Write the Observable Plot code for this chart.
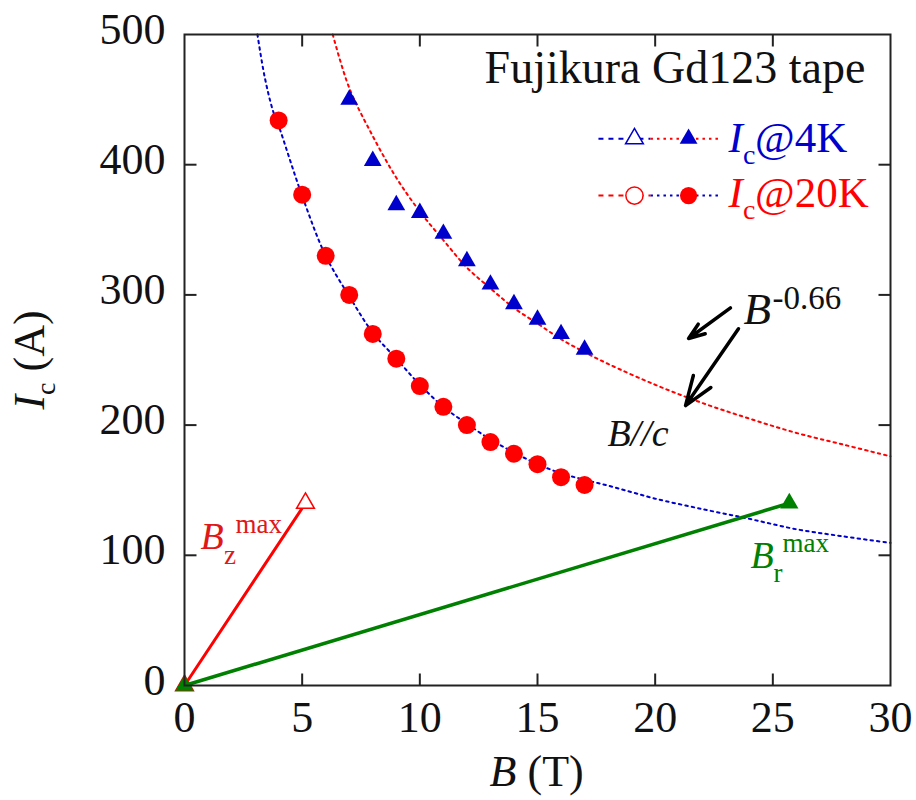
<!DOCTYPE html>
<html><head><meta charset="utf-8">
<script src="https://cdn.jsdelivr.net/npm/d3@7"></script>
<script src="https://cdn.jsdelivr.net/npm/@observablehq/plot@0.6"></script>
<style>html,body{margin:0;padding:0;background:#fff}</style>
</head><body><div id="chart"></div>
<script>
// ---------- data ----------
const xTicks = [0, 5, 10, 15, 20, 25, 30];
const yTicks = [0, 100, 200, 300, 400, 500];

// Ic at 4 K (filled blue triangles)
const B_4K  = [7, 8, 9, 10, 11, 12, 13, 14, 15, 16, 17];
const Ic_4K = [450, 403, 369, 363, 347, 326, 308, 293, 281, 270, 258];

// Ic at 20 K (filled red circles)
const B_20K  = [4, 5, 6, 7, 8, 9, 10, 11, 12, 13, 14, 15, 16, 17];
const Ic_20K = [434, 377, 330, 300, 270, 251, 230, 214, 200, 187, 178, 170, 160, 154];

// B^-0.66 fit curves
const fitB_4K  = [6.3, 7, 8, 9, 10, 11, 12, 13, 14, 15, 16, 17, 18, 20, 22, 24, 26, 28, 30];
const fitIc_4K = [500, 459, 422, 390, 364, 342, 321, 305, 290, 278, 266, 256, 247, 231, 217, 205, 194, 185, 176];
const fitB_20K  = [3.1, 3.4, 3.75, 4, 5, 6, 7, 8, 9, 10, 11, 12, 13, 14, 15, 16, 17, 18, 19, 20, 22, 24, 26, 28, 30];
const fitIc_20K = [500, 468, 442, 430, 376, 330, 299, 271, 251, 231, 214, 201, 189, 179, 170, 163, 158, 153.5, 148.5, 143.5, 135.5, 128, 120, 114.5, 109.5];

// load lines B_z^max and B_r^max
const Bz_B  = [0, 5.14];
const Bz_Ic = [0, 140];
const Br_B  = [0, 25.7];
const Br_Ic = [0, 140];

const titleText = "Fujikura Gd123 tape";
const legendLabels = ["@4K", "@20K"];

// ---------- styling ----------
const SERIF = "'Liberation Serif', 'Times New Roman', serif";
const BLUE = "#0000cc", RED = "#ff0000", GREEN = "#008000", INK = "#111111";

const zip = (xs, ys) => xs.map((x, i) => ({B: x, Ic: ys[i]}));
const pts4K = zip(B_4K, Ic_4K), pts20K = zip(B_20K, Ic_20K);
const fit4K = zip(fitB_4K, fitIc_4K), fit20K = zip(fitB_20K, fitIc_20K);
const Bz = zip(Bz_B, Bz_Ic), Br = zip(Br_B, Br_Ic);

const tickSym = (dx, dy) => ({draw(ctx) { ctx.moveTo(0, 0); ctx.lineTo(dx, dy); }});
const innerX = xTicks.slice(1, -1), innerY = yTicks.slice(1, -1);
const ticks = [
  Plot.dot(innerX.map(v => ({B: v, Ic: yTicks[0]})), {x: "B", y: "Ic", symbol: tickSym(0, -12), fill: "none", stroke: "#222", strokeWidth: 2}),
  Plot.dot(innerX.map(v => ({B: v, Ic: yTicks[yTicks.length - 1]})), {x: "B", y: "Ic", symbol: tickSym(0, 12), fill: "none", stroke: "#222", strokeWidth: 2}),
  Plot.dot(innerY.map(v => ({B: xTicks[0], Ic: v})), {x: "B", y: "Ic", symbol: tickSym(12, 0), fill: "none", stroke: "#222", strokeWidth: 2}),
  Plot.dot(innerY.map(v => ({B: xTicks[xTicks.length - 1], Ic: v})), {x: "B", y: "Ic", symbol: tickSym(-12, 0), fill: "none", stroke: "#222", strokeWidth: 2})
];

function rich(x, y, pieces, fill) {
  return pieces.map(p => Plot.text([{B: x, Ic: y, t: p.t}], {
    x: "B", y: "Ic", text: "t", dx: p.dx || 0, dy: p.dy || 0,
    fontSize: p.size, fontStyle: p.italic ? "italic" : "normal", fontFamily: SERIF,
    fill, textAnchor: p.anchor || "start", lineAnchor: "bottom"
  }));
}
function framed(anchor, pieces) {
  return pieces.map(p => Plot.text([p.t], {
    frameAnchor: anchor, text: d => d, dx: p.dx || 0, dy: p.dy || 0, rotate: p.rotate || 0,
    fontSize: p.size, fontStyle: p.italic ? "italic" : "normal", fontFamily: SERIF,
    fill: INK, textAnchor: "start", lineAnchor: "bottom"
  }));
}

// legend rows (data coords)
const legRows = [
  {y: 420, ty: 409.4, left: BLUE, right: RED, marker: "triangle", mcol: BLUE, r: 6.6, tcol: BLUE, label: legendLabels[0]},
  {y: 376.3, ty: 367.4, left: RED, right: BLUE, marker: "circle", mcol: RED, r: 8.6, tcol: RED, label: legendLabels[1]}
];
const legendMarks = legRows.flatMap(row => [
  Plot.link([row], {x1: () => 17.59, x2: () => 19.8, y1: "y", y2: "y", stroke: row.left, strokeWidth: 2, strokeDasharray: "5,5"}),
  Plot.link([row], {x1: () => 19.8, x2: () => 22.78, y1: "y", y2: "y", stroke: row.right, strokeWidth: 2, strokeDasharray: "2.5,4"}),
  Plot.dot([row], {x: () => 19.12, y: "y", symbol: row.marker, r: row.r, stroke: row.mcol, fill: "white", strokeWidth: 1.5}),
  Plot.dot([row], {x: () => 21.42, y: "y", symbol: row.marker, r: row.r, fill: row.mcol}),
  ...rich(23.12, row.ty, [
    {t: "I", size: 43, italic: true},
    {t: "c", size: 28, dx: 14.5, dy: 11.5},
    {t: row.label, size: 43, dx: 26.5}
  ], row.tcol)
]);

const arrows = [
  {x1: 23.2, y1: 290, x2: 21.42, y2: 266.5},
  {x1: 23.54, y1: 274, x2: 21.29, y2: 215}
];

const chart = Plot.plot({
  width: 916, height: 800,
  marginLeft: 184, marginRight: 26, marginTop: 34, marginBottom: 115,
  style: {fontFamily: SERIF, color: INK, background: "#fff", overflow: "visible"},
  x: {domain: [0, 30]},
  y: {domain: [0, 500]},
  marks: [
    Plot.axisX({ticks: xTicks, tickSize: 0, tickPadding: 15, fontSize: 44, fontFamily: SERIF, label: null}),
    Plot.axisY({ticks: yTicks, tickSize: 0, tickPadding: 19, fontSize: 44, fontFamily: SERIF, label: null, dy: -5}),
    ...framed("left", [
      {t: "I", size: 44, italic: true, rotate: -90, dx: -141, dy: 49.6},
      {t: "c", size: 28, rotate: -90, dx: -130, dy: 34.9},
      {t: "(A)", size: 44, rotate: -90, dx: -141, dy: 11.5}
    ]),
    ...framed("bottom", [
      {t: "B", size: 44, italic: true, dx: -48, dy: 100},
      {t: "(T)", size: 44, dx: -10, dy: 100}
    ]),
    // fit curves
    Plot.line(fit20K, {x: "B", y: "Ic", stroke: BLUE, strokeWidth: 2, strokeDasharray: "2.5,4", curve: "catmull-rom"}),
    Plot.line(fit4K, {x: "B", y: "Ic", stroke: RED, strokeWidth: 2, strokeDasharray: "2.5,4", curve: "catmull-rom"}),
    // data
    Plot.dot(pts20K, {x: "B", y: "Ic", r: 9, fill: RED}),
    Plot.dot(pts4K, {x: "B", y: "Ic", symbol: "triangle", r: 6.6, fill: BLUE}),
    // load lines
    Plot.line(Bz, {x: "B", y: "Ic", stroke: RED, strokeWidth: 3}),
    Plot.dot(Bz, {x: "B", y: "Ic", symbol: "triangle", r: 6.6, stroke: RED, fill: "white", strokeWidth: 1.5}),
    Plot.line(Br, {x: "B", y: "Ic", stroke: GREEN, strokeWidth: 3.5}),
    Plot.dot(Br, {x: "B", y: "Ic", symbol: "triangle", r: 6.8, fill: GREEN}),
    // arrows
    Plot.arrow(arrows, {x1: "x1", y1: "y1", x2: "x2", y2: "y2", stroke: "#000", strokeWidth: 3.5, headLength: 18, headAngle: 40}),
    // annotations
    ...rich(28.93, 462.4, [{t: titleText, size: 46, anchor: "end"}], INK),
    ...rich(23.75, 278, [
      {t: "B", size: 45, italic: true},
      {t: "-0.66", size: 33, dx: 29, dy: -15}
    ], INK),
    ...rich(17.97, 184.3, [{t: "B//c", size: 38, italic: true}], INK),
    ...rich(0.68, 105.2, [
      {t: "B", size: 38, italic: true},
      {t: "z", size: 27, dx: 23.5, dy: 15},
      {t: "max", size: 27, dx: 35, dy: -16}
    ], "#e01818"),
    ...rich(24.05, 89.9, [
      {t: "B", size: 38, italic: true},
      {t: "r", size: 27, dx: 23, dy: 14},
      {t: "max", size: 27, dx: 32, dy: -16}
    ], GREEN),
    ...legendMarks,
    Plot.frame({stroke: "#222", strokeWidth: 2}),
    ...ticks
  ]
});
document.getElementById("chart").appendChild(chart);
</script>
</body></html>
